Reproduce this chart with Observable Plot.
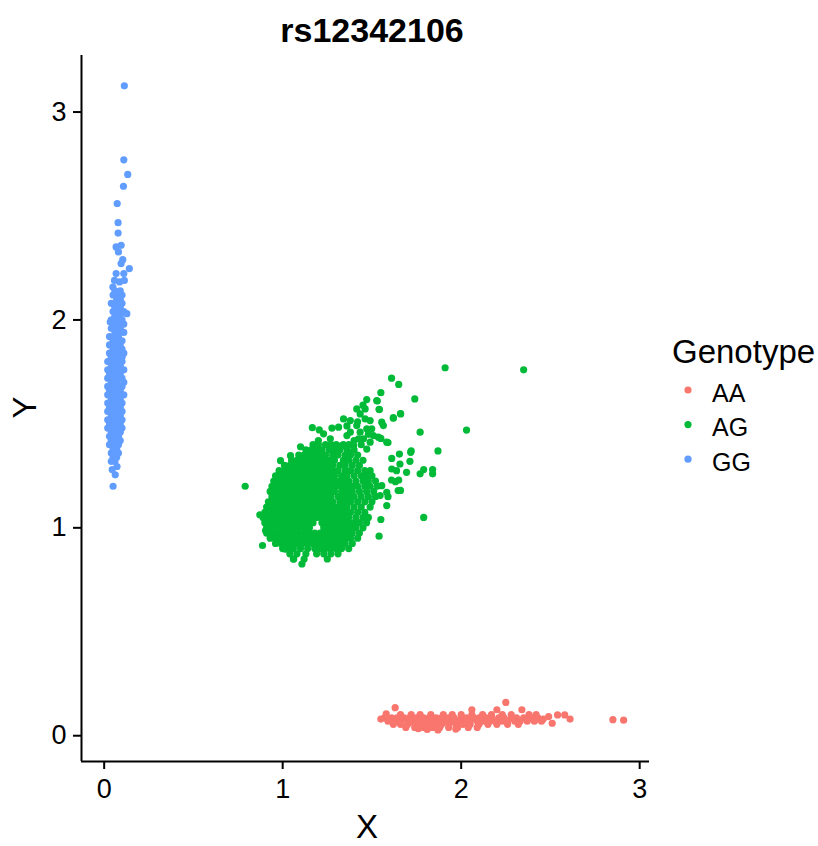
<!DOCTYPE html>
<html>
<head>
<meta charset="utf-8">
<script src="https://cdn.jsdelivr.net/npm/d3@7"></script>
<script src="https://cdn.jsdelivr.net/npm/@observablehq/plot@0.6"></script>
<style>
  body { margin: 0; background: #ffffff; }
  #chart { width: 818px; height: 846px; }
</style>
</head>
<body>
<div id="chart"></div>
<script>
const titleText = "rs12342106";
const xLabel = "X";
const yLabel = "Y";
const legendTitle = "Genotype";
const genotypes = ["AA", "AG", "GG"];
const genotypeColors = ["#F8766D", "#00BA38", "#619CFF"];
const xTicks = [0, 1, 2, 3];
const yTicks = [0, 1, 2, 3];

// ---- AA cluster (rows: [y, [x...]]) and scattered points [x, y]
const aaRows = [
  [0.101, [1.66,1.72,1.77,1.83,1.90,1.95,2.00,2.06,2.12,2.17,2.23,2.28,2.38,2.42]],
  [0.086, [1.57,1.61,1.64,1.68,1.71,1.75,1.79,1.82,1.86,1.89,1.93,1.96,2.00,2.03,2.07,2.10,2.14,2.17,2.21,2.24,2.28,2.31,2.35,2.39,2.43]],
  [0.070, [1.59,1.63,1.66,1.70,1.73,1.77,1.80,1.84,1.88,1.91,1.95,1.98,2.02,2.05,2.09,2.12,2.16,2.19,2.23,2.26,2.30,2.33,2.37,2.41,2.45]],
  [0.055, [1.62,1.66,1.70,1.74,1.78,1.81,1.85,1.89,1.93,1.97,2.01,2.05,2.10,2.15,2.20,2.26,2.32]],
  [0.040, [1.69,1.74,1.79,1.84,1.88,1.93,1.98,2.04,2.09]]
];
const aaExtra = [
  [2.25,0.160],[1.63,0.135],[2.34,0.125],[2.06,0.125],[2.20,0.125],[2.54,0.100],[2.58,0.100],
  [2.61,0.080],[2.51,0.060],[2.46,0.080],[1.55,0.080],[2.85,0.077],[2.91,0.075],[2.49,0.092],
  [1.58,0.105],[1.81,0.030],[1.87,0.028],[1.76,0.034],[1.97,0.032]
];

// ---- AG cluster
const agRows = [
  [1.400, [1.17,1.20,1.24,1.27,1.30,1.34,1.37]],
  [1.375, [1.13,1.16,1.19,1.22,1.26,1.29,1.32,1.36,1.40]],
  [1.350, [1.09,1.12,1.15,1.18,1.21,1.24,1.28,1.31,1.35,1.38,1.42]],
  [1.325, [1.05,1.08,1.11,1.14,1.17,1.20,1.23,1.26,1.29,1.34,1.37,1.41,1.45]],
  [1.300, [1.01,1.04,1.07,1.10,1.13,1.16,1.19,1.22,1.25,1.28,1.32,1.35,1.39,1.43]],
  [1.275, [0.98,1.01,1.04,1.07,1.10,1.13,1.16,1.19,1.22,1.25,1.28,1.31,1.35,1.38,1.42,1.46,1.49]],
  [1.250, [0.96,0.99,1.02,1.05,1.08,1.11,1.14,1.17,1.20,1.23,1.26,1.29,1.33,1.36,1.40,1.44,1.47,1.50]],
  [1.225, [0.95,0.98,1.01,1.04,1.07,1.10,1.13,1.16,1.19,1.22,1.25,1.28,1.31,1.34,1.37,1.41,1.45,1.48,1.52]],
  [1.200, [0.94,0.97,1.00,1.03,1.06,1.09,1.12,1.15,1.18,1.21,1.24,1.27,1.30,1.33,1.36,1.39,1.42,1.46,1.49,1.53]],
  [1.175, [0.93,0.96,0.99,1.02,1.05,1.08,1.11,1.14,1.17,1.20,1.23,1.26,1.29,1.33,1.36,1.39,1.43,1.47,1.51]],
  [1.150, [0.94,0.97,1.00,1.03,1.06,1.09,1.12,1.15,1.18,1.21,1.24,1.27,1.31,1.34,1.37,1.40,1.44,1.48,1.52]],
  [1.125, [0.92,0.95,0.98,1.01,1.04,1.07,1.10,1.13,1.16,1.19,1.22,1.25,1.28,1.32,1.35,1.38,1.42,1.46,1.50]],
  [1.100, [0.91,0.94,0.97,1.00,1.03,1.06,1.09,1.12,1.15,1.18,1.21,1.24,1.27,1.30,1.33,1.36,1.40,1.44,1.49]],
  [1.075, [0.90,0.93,0.96,0.99,1.02,1.05,1.08,1.11,1.14,1.17,1.20,1.23,1.26,1.29,1.32,1.35,1.38,1.42,1.46]],
  [1.050, [0.89,0.92,0.95,0.98,1.01,1.04,1.07,1.10,1.13,1.16,1.19,1.22,1.25,1.28,1.31,1.34,1.37,1.41,1.45,1.48]],
  [1.025, [0.90,0.93,0.96,0.99,1.02,1.05,1.08,1.11,1.14,1.17,1.22,1.25,1.28,1.31,1.34,1.37,1.40,1.43,1.47]],
  [1.000, [0.91,0.94,0.97,1.00,1.03,1.06,1.09,1.12,1.15,1.23,1.26,1.29,1.32,1.35,1.38,1.41,1.45]],
  [0.975, [0.91,0.94,0.97,1.00,1.03,1.06,1.09,1.12,1.15,1.18,1.21,1.24,1.27,1.30,1.33,1.36,1.39,1.43]],
  [0.950, [0.93,0.96,0.99,1.02,1.05,1.08,1.11,1.14,1.17,1.20,1.23,1.26,1.29,1.32,1.35,1.38,1.42]],
  [0.925, [0.96,0.99,1.02,1.05,1.08,1.11,1.14,1.17,1.20,1.23,1.26,1.29,1.32,1.35,1.39]],
  [0.900, [1.00,1.03,1.06,1.10,1.14,1.18,1.21,1.24,1.27,1.30,1.33,1.37]],
  [0.875, [1.04,1.08,1.13,1.19,1.23,1.27,1.31]],
  [0.850, [1.06,1.12,1.25]]
];
const agExtra = [
  // far outliers
  [0.79,1.20],[1.91,1.77],[2.35,1.76],[1.61,1.72],[1.65,1.69],[1.55,1.65],[1.74,1.62],
  [1.77,1.46],[2.03,1.47],[1.87,1.37],[1.72,1.37],[1.79,1.28],[1.84,1.28],[1.84,1.26],
  [1.77,1.26],[1.79,1.05],[1.55,1.04],[1.54,0.96],[1.59,1.41],[1.55,1.43],
  // upper arm
  [1.471,1.617],[1.527,1.612],[1.542,1.569],[1.434,1.548],[1.462,1.524],[1.490,1.516],
  [1.555,1.508],[1.620,1.527],[1.661,1.548],[1.564,1.492],[1.536,1.436],[1.583,1.412],
  [1.471,1.476],[1.415,1.492],[1.379,1.460],[1.453,1.428],[1.490,1.412],[1.397,1.395],
  [1.360,1.444],[1.341,1.524],[1.379,1.516],[1.434,1.460],[1.415,1.572],[1.462,1.572],
  [1.499,1.476],[1.508,1.444],[1.425,1.428],[1.471,1.379],[1.379,1.363],[1.332,1.395],
  [1.53,1.61],[1.45,1.59],[1.54,1.57],[1.66,1.55],[1.62,1.53],[1.40,1.42],[1.44,1.40],
  [1.36,1.49],[1.48,1.45],[1.42,1.51],
  // upper-left scatter
  [1.166,1.482],[1.205,1.471],[1.276,1.480],[1.313,1.484],[1.267,1.428],[1.229,1.452],
  [0.988,1.323],[1.044,1.347],[1.10,1.39],[1.20,1.42],
  // right sparse
  [1.611,1.334],[1.654,1.355],[1.717,1.363],[1.657,1.307],[1.713,1.320],[1.611,1.283],
  [1.638,1.275],[1.694,1.267],[1.632,1.222],[1.647,1.179],[1.583,1.171],[1.555,1.203],
  [1.583,1.107],[1.546,1.155],[1.65,1.23],[1.66,1.18],[1.59,1.15],[1.61,1.23],
  // left / bottom edge
  [0.872,1.063],[0.887,0.915],[0.904,0.987],[0.950,1.123],[0.969,1.203],[1.062,0.850],
  [1.108,0.826],[1.015,0.898]
];

// ---- GG cluster
const ggRows = [
  [2.140,[0.06,0.09]],
  [2.120,[0.05,0.08,0.10]],
  [2.100,[0.07,0.09]],
  [2.080,[0.04,0.07,0.10]],
  [2.060,[0.06,0.09]],
  [2.040,[0.05,0.08,0.11]],
  [2.020,[0.06,0.09]],
  [2.000,[0.04,0.07,0.10]],
  [1.980,[0.05,0.08,0.11]],
  [1.960,[0.04,0.07,0.09]],
  [1.940,[0.06,0.09,0.11]],
  [1.920,[0.03,0.06,0.08]],
  [1.900,[0.05,0.08,0.10]],
  [1.880,[0.03,0.06,0.09]],
  [1.860,[0.05,0.07,0.10]],
  [1.840,[0.03,0.06,0.09,0.11]],
  [1.820,[0.04,0.07,0.10]],
  [1.800,[0.02,0.05,0.08,0.10]],
  [1.780,[0.04,0.07,0.09]],
  [1.760,[0.02,0.05,0.08,0.11]],
  [1.740,[0.03,0.06,0.09]],
  [1.720,[0.02,0.05,0.08,0.10]],
  [1.700,[0.04,0.07,0.11]],
  [1.680,[0.02,0.05,0.08,0.10]],
  [1.660,[0.03,0.06,0.09]],
  [1.640,[0.02,0.05,0.08,0.11]],
  [1.620,[0.04,0.07,0.09]],
  [1.600,[0.02,0.05,0.08,0.10]],
  [1.580,[0.03,0.06,0.09]],
  [1.560,[0.02,0.05,0.07,0.10]],
  [1.540,[0.04,0.07,0.09]],
  [1.520,[0.02,0.05,0.08,0.10]],
  [1.500,[0.03,0.06,0.09]],
  [1.480,[0.02,0.05,0.08,0.10]],
  [1.460,[0.04,0.07,0.09]],
  [1.440,[0.03,0.05,0.08]],
  [1.420,[0.04,0.07,0.09]],
  [1.400,[0.03,0.06,0.08]],
  [1.380,[0.05,0.07]],
  [1.360,[0.04,0.06,0.08]],
  [1.340,[0.05,0.07]],
  [1.320,[0.04,0.06]]
];
const ggExtra = [
  [0.113,3.126],[0.110,2.770],[0.132,2.700],[0.108,2.643],[0.073,2.560],[0.078,2.468],
  [0.078,2.418],[0.067,2.351],[0.095,2.359],[0.080,2.327],[0.104,2.290],[0.141,2.247],
  [0.095,2.271],[0.067,2.223],[0.110,2.223],[0.049,2.158],[0.086,2.183],[0.113,2.190],
  [0.058,2.190],[0.127,2.030],[0.034,1.990],
  [0.050,1.200],[0.062,1.255],[0.045,1.280],[0.072,1.295]
];

// ---- build table
const points = [];
function addRows(rows, g) { for (const [y, xs] of rows) for (const x of xs) points.push({x, y, g}); }
function addPairs(pairs, g) { for (const [x, y] of pairs) points.push({x, y, g}); }
addRows(aaRows, "AA"); addPairs(aaExtra, "AA");
addRows(agRows, "AG"); addPairs(agExtra, "AG");
addRows(ggRows, "GG"); addPairs(ggExtra, "GG");

const FONT = "'Liberation Sans', Arial, Helvetica, sans-serif";
const xDomain = [-0.127, 3.055];
const yDomain = [-0.124, 3.272];

const chart = Plot.plot({
  width: 818,
  height: 846,
  marginLeft: 81,
  marginRight: 169,
  marginTop: 55,
  marginBottom: 85,
  style: { fontFamily: FONT, fontSize: "27px", color: "#000", background: "#fff" },
  x: { domain: xDomain, label: null },
  y: { domain: yDomain, label: null },
  color: { domain: genotypes, range: genotypeColors },
  marks: [
    Plot.dot(points, { x: "x", y: "y", fill: "g", r: 3.6 }),
    Plot.ruleY([yDomain[0]], { stroke: "#000", strokeWidth: 2 }),
    Plot.ruleX([xDomain[0]], { stroke: "#000", strokeWidth: 2 }),
    Plot.axisX({ ticks: xTicks, tickFormat: d3.format("d"), tickSize: 8, tickPadding: 9, strokeWidth: 2, label: null }),
    Plot.axisY({ ticks: yTicks, tickFormat: d3.format("d"), tickSize: 8, tickPadding: 7, strokeWidth: 2, label: null })
  ]
});

document.getElementById("chart").appendChild(chart);
const svg = d3.select(chart);

// title
svg.append("text")
  .attr("x", 372).attr("y", 41.5)
  .attr("text-anchor", "middle")
  .style("font-family", FONT).style("font-weight", "bold").style("font-size", "34px")
  .attr("fill", "#000")
  .text(titleText);

// axis titles
svg.append("text")
  .attr("x", 367).attr("y", 838)
  .attr("text-anchor", "middle")
  .style("font-family", FONT).style("font-size", "33px")
  .attr("fill", "#000")
  .text(xLabel);
svg.append("text")
  .attr("transform", "translate(36,407.5) rotate(-90)")
  .attr("text-anchor", "middle")
  .style("font-family", FONT).style("font-size", "33px")
  .attr("fill", "#000")
  .text(yLabel);

// legend
const colorScale = chart.scale("color");
const lg = svg.append("g").attr("text-anchor", "start");
lg.append("text")
  .attr("x", 672).attr("y", 363)
  .attr("text-anchor", "start")
  .style("font-family", FONT).style("font-size", "33px")
  .attr("fill", "#000")
  .text(legendTitle);
genotypes.forEach((g, i) => {
  const cy = 390 + i * 34.6;
  lg.append("circle").attr("cx", 688).attr("cy", cy).attr("r", 3.6)
    .attr("fill", colorScale.apply(g));
  lg.append("text").attr("x", 712).attr("y", cy + 11.8)
    .attr("text-anchor", "start")
    .style("font-family", FONT).style("font-size", "25px")
    .attr("fill", "#000")
    .text(g);
});
</script>
</body>
</html>
